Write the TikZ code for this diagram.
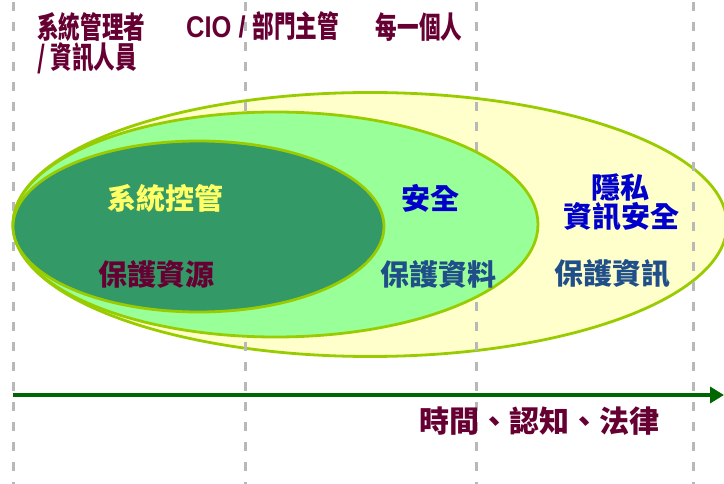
\documentclass[tikz,border=0pt]{standalone}
\usepackage{fontspec}
\setmainfont{Liberation Sans}
\newfontfamily\cjk{Noto Sans CJK TC}
\usetikzlibrary{arrows.meta}
\definecolor{maroon}{HTML}{660033}
\definecolor{yfill}{HTML}{FFFFCC}
\definecolor{lgfill}{HTML}{99FF99}
\definecolor{dgfill}{HTML}{339966}
\definecolor{rim}{HTML}{99CC00}
\definecolor{txtyellow}{HTML}{FFFF66}
\definecolor{txtblue}{HTML}{0000CC}
\definecolor{txtsteel}{HTML}{1F4E89}
\definecolor{arrowgreen}{HTML}{006600}
\definecolor{dashgray}{HTML}{B8B8B8}
\tikzset{
  divider/.style={draw=dashgray, line width=3pt, dash pattern=on 9pt off 11pt},
  ring/.style={draw=rim, line width=2.8pt},
  head/.style={text=maroon, font=\cjk\bfseries\fontsize{30}{31}\selectfont, inner sep=0pt, align=left},
  lab/.style={font=\cjk\bfseries\fontsize{29}{32}\selectfont, inner sep=0pt, align=center},
}
\newcommand{\cond}[1]{\scalebox{0.72}[1]{#1}}
\begin{document}
\begin{tikzpicture}[x=1pt,y=-1pt]
\useasboundingbox (0,0) rectangle (724,484);
% outer ellipse
\path[ring, fill=yfill] (370,224.5) ellipse [x radius=357, y radius=132];
% dividers
\foreach \n/\x in {d1/13, d2/245, d3/476, d4/693} {
  \coordinate (\n t) at (\x,2);
  \coordinate (\n b) at (\x,484);
  \draw[divider] (\n t) -- (\n b);
}
% middle and inner ellipses
\path[ring, fill=lgfill] (275.5,224.5) ellipse [x radius=262.5, y radius=112.5];
\path[ring, fill=dgfill] (198.5,226.5) ellipse [x radius=185.5, y radius=85.5];
% headers
\node[head, anchor=west] (h1) at (37,27) {\cond{系統管理者}};
\node[head, anchor=west] (h1b) at (37,58) {\cond{/ 資訊人員}};
\node[head, anchor=west] (h2) at (186,26) {\scalebox{0.85}[1]{\fontspec{Liberation Sans}\bfseries\fontsize{30}{31}\selectfont CIO /} \cond{部門主管}};
\node[head] (h3) at (419,27) {\cond{每一個人}};
% labels
\node[lab, text=txtyellow] (l1) at (165,198) {系統控管};
\node[lab, text=maroon] (l2) at (156,274) {保護資源};
\node[lab, text=txtblue] (l3) at (430,198) {安全};
\node[lab, text=txtsteel] (l4) at (438,274) {保護資料};
\node[lab, text=txtblue] (l5) at (620,187) {隱私};
\node[lab, text=txtblue] (l6) at (621,217) {資訊安全};
\node[lab, text=txtsteel] (l7) at (612,274) {保護資訊};
% arrow
\coordinate (as) at (13,395);
\coordinate (ae) at (724,395);
\draw[draw=arrowgreen, line width=4.5pt, -{Triangle[length=14pt,width=16pt]}] (as) -- (ae);
\node[lab, text=maroon, font=\cjk\bfseries\fontsize{30}{32}\selectfont] (t) at (539,421) {時間、認知、法律};
\end{tikzpicture}
\end{document}
